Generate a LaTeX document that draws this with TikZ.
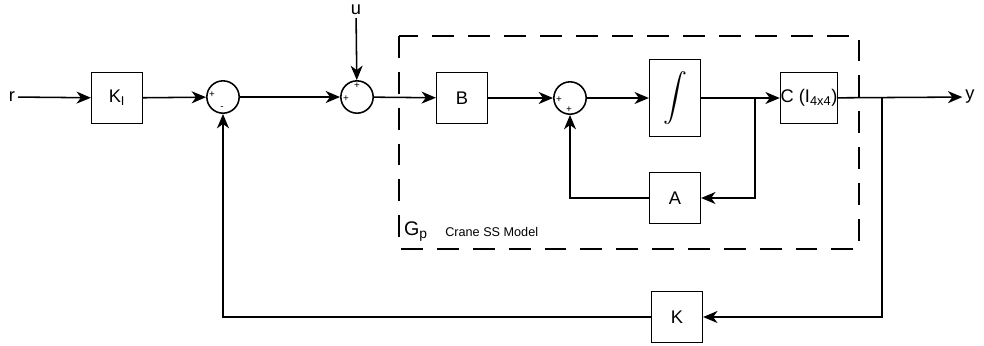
\documentclass[tikz,border=0pt]{standalone}
\usepackage{fontspec}
\setmainfont{Liberation Sans}
\usetikzlibrary{positioning,arrows.meta}

\begin{document}
\begin{tikzpicture}[x=0.025cm, y=-0.025cm,
  blk/.style={draw, line width=1.1pt, minimum width=36pt, minimum height=36pt,
              inner sep=0pt, font=\fontsize{13}{14}\selectfont},
  sumc/.style={draw, circle, line width=1.1pt, minimum size=23pt, inner sep=0pt},
  sgn/.style={font=\fontsize{7}{8}\selectfont, inner sep=0pt},
  lbl/.style={font=\fontsize{13}{14}\selectfont, inner sep=2pt},
  arr/.style={-{Stealth[length=3.6mm, width=3mm, inset=1.1mm]}, line width=1.1pt},
  ln/.style={line width=1.1pt}]
\useasboundingbox (0,0) rectangle (984,345);
% plant frame
\draw[line width=0.9pt, dash pattern=on 15.5pt off 10pt] (399,36) rectangle (859,249);
\node[font=\fontsize{14}{15}\selectfont, inner sep=0pt] (gp) at (416,232) {G\textsubscript{p}};
\node[font=\fontsize{9}{10}\selectfont, inner sep=0pt, anchor=west] (crane) at (445,232) {Crane SS Model};
% blocks
\node[lbl] (r) at (12,97) {r};
\node[blk] (ki) at (117,98) {K\textsubscript{I}};
\node[sumc] (s1) at (223,97) {};
\node[sumc] (s2) at (357,97) {};
\node[lbl] (u) at (356,10) {u};
\node[blk] (b) at (462,98) {B};
\node[sumc] (s3) at (570,98) {};
\node[blk, minimum height=55pt] (int) at (675,98) {\scalebox{1.7}{$\displaystyle\int$}};
\node[blk] (c) at (809,98) {C (I\textsubscript{4x4})};
\node[blk] (a) at (675,198) {A};
\node[blk] (k) at (677,317) {K};
\node[lbl] (y) at (970,97) {y};
% signs
\node[sgn] at (212,95) {+};
\node[sgn] at (222,108) {-};
\node[sgn] at (346,99) {+};
\node[sgn] at (357,86) {+};
\node[sgn] at (559,100) {+};
\node[sgn] at (569,110) {+};
% branch points
\coordinate (ba) at (755,98);
\coordinate (bk) at (882,98);
% forward path
\draw[arr] (r) -- (ki);
\draw[arr] (ki) -- (s1);
\draw[arr] (s1) -- (s2);
\draw[arr] (u) -- (s2);
\draw[arr] (s2) -- (b);
\draw[arr] (b) -- (s3);
\draw[arr] (s3) -- (int);
\draw[arr] (int) -- (c);
\draw[arr] (c) -- (y);
% inner loop
\draw[arr] (ba) |- (a);
\draw[arr] (a) -| (s3);
% outer loop
\draw[arr] (bk) |- (k);
\draw[arr] (k) -| (s1);
\end{tikzpicture}
\end{document}
